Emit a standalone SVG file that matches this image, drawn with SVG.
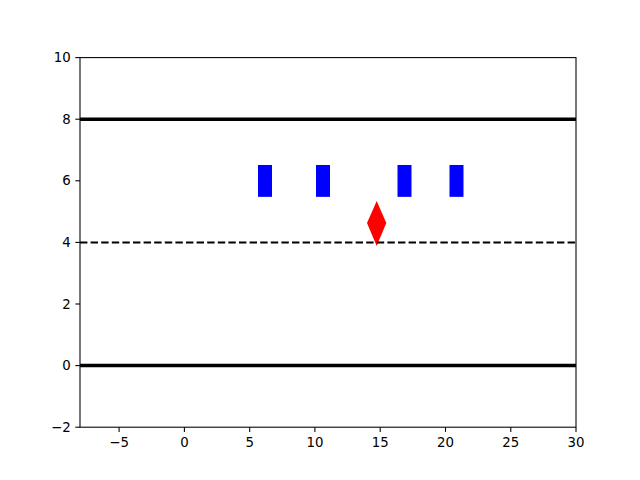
<svg xmlns="http://www.w3.org/2000/svg" width="640" height="480" viewBox="0 0 640 480">
<style>
.t{font-family:"DejaVu Sans",sans-serif;font-size:13.33px;fill:#000}
.tx{text-anchor:middle}
.ty{text-anchor:end;dominant-baseline:central}
.tick{stroke:#000;stroke-width:1.07}
.car{fill:#0000ff;stroke:#0000ff;stroke-width:1}
</style>
<rect width="640" height="480" fill="#fff"/>
<g id="car1"><rect class="car" x="258.5" y="165.5" width="13" height="30.8"/></g>
<g id="car2"><rect class="car" x="316.5" y="165.5" width="13" height="30.8"/></g>
<g id="car3"><rect class="car" x="398" y="165.5" width="13" height="30.8"/></g>
<g id="car4"><rect class="car" x="450" y="165.5" width="13" height="30.8"/></g>
<g id="ego"><polygon points="376.7,201 386.3,223 376.7,246 367,223" fill="#ff0000"/></g>
<g id="connectors">
<line x1="80" y1="119.2" x2="576" y2="119.2" stroke="#000" stroke-width="3.5"/>
<line x1="80" y1="365.6" x2="576" y2="365.6" stroke="#000" stroke-width="3.5"/>
<line x1="80" y1="242.4" x2="576" y2="242.4" stroke="#000" stroke-width="2" stroke-dasharray="7.4 3.2"/>
</g>
<g id="axes">
<rect x="80" y="57.6" width="496" height="369.6" fill="none" stroke="#000" stroke-width="1.07"/>
<g class="tick">
<line x1="119.1" y1="427.2" x2="119.1" y2="431.9"/>
<line x1="184.4" y1="427.2" x2="184.4" y2="431.9"/>
<line x1="249.7" y1="427.2" x2="249.7" y2="431.9"/>
<line x1="314.9" y1="427.2" x2="314.9" y2="431.9"/>
<line x1="380.2" y1="427.2" x2="380.2" y2="431.9"/>
<line x1="445.5" y1="427.2" x2="445.5" y2="431.9"/>
<line x1="510.8" y1="427.2" x2="510.8" y2="431.9"/>
<line x1="576" y1="427.2" x2="576" y2="431.9"/>
<line x1="75.3" y1="57.6" x2="80" y2="57.6"/>
<line x1="75.3" y1="119.2" x2="80" y2="119.2"/>
<line x1="75.3" y1="180.8" x2="80" y2="180.8"/>
<line x1="75.3" y1="242.4" x2="80" y2="242.4"/>
<line x1="75.3" y1="304" x2="80" y2="304"/>
<line x1="75.3" y1="365.6" x2="80" y2="365.6"/>
<line x1="75.3" y1="427.2" x2="80" y2="427.2"/>
</g>
<g class="t tx">
<text x="119.1" y="447">−5</text>
<text x="184.4" y="447">0</text>
<text x="249.7" y="447">5</text>
<text x="314.9" y="447">10</text>
<text x="380.2" y="447">15</text>
<text x="445.5" y="447">20</text>
<text x="510.8" y="447">25</text>
<text x="576" y="447">30</text>
</g>
<g class="t ty">
<text x="70.7" y="57.6">10</text>
<text x="70.7" y="119.2">8</text>
<text x="70.7" y="180.8">6</text>
<text x="70.7" y="242.4">4</text>
<text x="70.7" y="304">2</text>
<text x="70.7" y="365.6">0</text>
<text x="70.7" y="427.2">−2</text>
</g>
</g>
</svg>
